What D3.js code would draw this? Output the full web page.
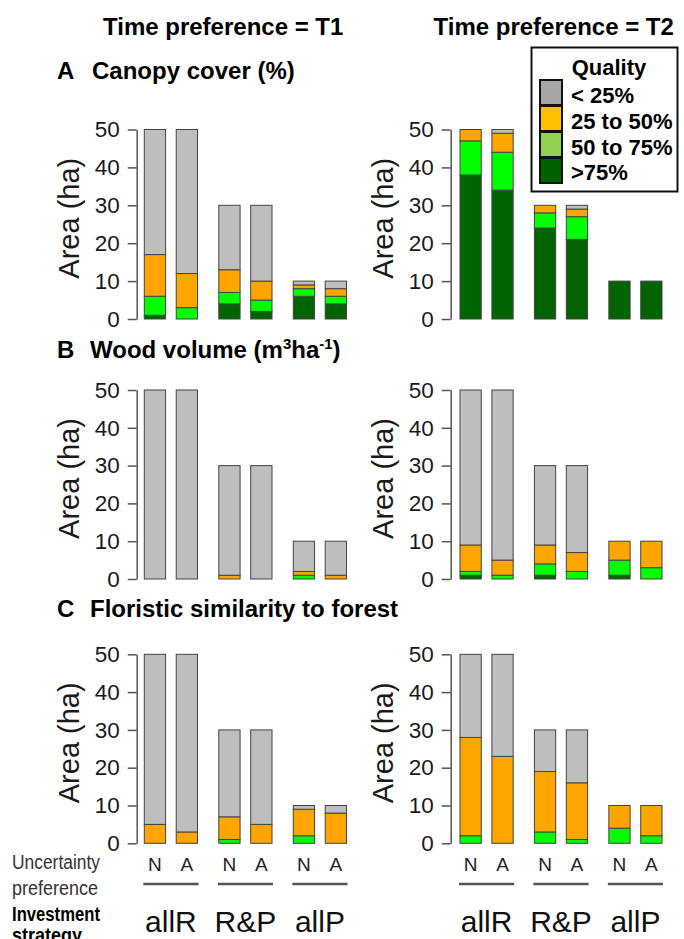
<!DOCTYPE html>
<html>
<head>
<meta charset="utf-8">
<script src="https://cdn.jsdelivr.net/npm/d3@7"></script>
<style>
  body { margin: 0; background: #fff; }
  text { font-family: "Liberation Sans", Arial, sans-serif; }
</style>
</head>
<body>
<script>
//--------------------------- Data

var groups = ["allR", "R&P", "allP"];
var uncertainty = ["N", "A"];
var timePrefs = ["T1", "T2"];
var qualityLabels = ["< 25%", "25 to 50%", "50 to 75%", ">75%"];

// one row per bar (N-allR, A-allR, N-R&P, A-R&P, N-allP, A-allP)
// values from bottom to top: >75%, 50 to 75%, 25 to 50%, < 25%
var canopyT1 = [[1, 5, 11, 33], [0, 3, 9, 38], [4, 3, 6, 17], [2, 3, 5, 20], [6, 2, 1, 1], [4, 2, 2, 2]];
var canopyT2 = [[38, 9, 3, 0], [34, 10, 5, 1], [24, 4, 2, 0], [21, 6, 2, 1], [10, 0, 0, 0], [10, 0, 0, 0]];
var woodT1 = [[0, 0, 0, 50], [0, 0, 0, 50], [0, 0, 1, 29], [0, 0, 0, 30], [0, 1, 1, 8], [0, 0, 1, 9]];
var woodT2 = [[1, 1, 7, 41], [0, 1, 4, 45], [1, 3, 5, 21], [0, 2, 5, 23], [1, 4, 5, 0], [0, 3, 7, 0]];
var floristicT1 = [[0, 0, 5, 45], [0, 0, 3, 47], [0, 1, 6, 23], [0, 0, 5, 25], [0, 2, 7, 1], [0, 0, 8, 2]];
var floristicT2 = [[0, 2, 26, 22], [0, 0, 23, 27], [0, 3, 16, 11], [0, 1, 15, 14], [0, 4, 6, 0], [0, 2, 8, 0]];

var yTicks = [0, 10, 20, 30, 40, 50];

//--------------------------- Styles

var barColors = ["#006400", "#00ff00", "#ffa500", "#bebebe"];      // bottom to top
var legendColors = ["#a6a6a6", "#ffc000", "#92d050", "#006100"];   // legend order

//--------------------------- SVG

var svg = d3.select("body").append("svg")
    .attr("width", 684)
    .attr("height", 939);

var rows = [
    { letter: "A", data: [canopyT1, canopyT2], y0: 319, y50: 129.5, titleY: 79 },
    { letter: "B", data: [woodT1, woodT2], y0: 579, y50: 390, titleY: 358 },
    { letter: "C", data: [floristicT1, floristicT2], y0: 843.3, y50: 654.3, titleY: 617 }
];
var cols = [
    { x0: 144.3, x1: 346.5, axisX: 136.7, headX: 103 },
    { x0: 460, x1: 662, axisX: 450.7, headX: 433.5 }
];

var keys = ["q4", "q3", "q2", "q1"];
var stack = d3.stack().keys(keys);

//--------------------------- Column headers

cols.forEach(function (c, ci) {
    svg.append("text")
        .attr("x", c.headX).attr("y", 35)
        .style("font-size", "24px").style("font-weight", "bold")
        .text("Time preference = " + timePrefs[ci]);
});

//--------------------------- Panel titles

var titles = svg.append("g").style("font-size", "24px").style("font-weight", "bold");
rows.forEach(function (r) {
    titles.append("text").attr("x", 57).attr("y", r.titleY).text(r.letter);
});
titles.append("text").attr("x", 92).attr("y", rows[0].titleY).text("Canopy cover (%)");
var wt = titles.append("text").attr("x", 90).attr("y", rows[1].titleY);
wt.append("tspan").text("Wood volume (m");
wt.append("tspan").attr("dy", -9).style("font-size", "15px").text("3");
wt.append("tspan").attr("dy", 9).text("ha");
wt.append("tspan").attr("dy", -9).style("font-size", "15px").text("-1");
wt.append("tspan").attr("dy", 9).text(")");
titles.append("text").attr("x", 90).attr("y", rows[2].titleY).text("Floristic similarity to forest");

//--------------------------- Panels

rows.forEach(function (r) {
    cols.forEach(function (c, ci) {
        var y = d3.scaleLinear().domain([0, 50]).range([r.y0, r.y50]);
        var xGroup = d3.scaleBand().domain(groups).range([c.x0, c.x1]).paddingInner(1 / 3.5);
        var xSub = d3.scaleBand().domain(uncertainty).range([0, xGroup.bandwidth()]).paddingInner(1 / 3);

        var bars = r.data[ci].map(function (v, i) {
            return { group: groups[Math.floor(i / 2)], unc: uncertainty[i % 2],
                     q4: v[0], q3: v[1], q2: v[2], q1: v[3] };
        });
        var series = stack(bars);

        var g = svg.append("g");

        g.selectAll("g.layer")
            .data(series)
            .enter().append("g")
            .attr("class", "layer")
            .attr("fill", function (d, i) { return barColors[i]; })
            .selectAll("rect")
            .data(function (d) { return d.filter(function (s) { return s[1] - s[0] > 0; }); })
            .enter().append("rect")
            .attr("x", function (d) { return xGroup(d.data.group) + xSub(d.data.unc); })
            .attr("width", xSub.bandwidth())
            .attr("y", function (d) { return y(d[1]); })
            .attr("height", function (d) { return y(d[0]) - y(d[1]); })
            .attr("stroke", "#444")
            .attr("stroke-width", 1);

        var ax = g.append("g")
            .attr("transform", "translate(" + c.axisX + ",0)")
            .call(d3.axisLeft(y).tickValues(yTicks).tickSize(9).tickPadding(8).tickSizeOuter(0));
        ax.selectAll("path, line").attr("stroke", "#555").attr("stroke-width", 1.5);
        ax.selectAll("text")
            .attr("fill", "#1a1a1a")
            .style("font-size", "22.5px")
            .style("font-family", "'Liberation Sans', Arial, sans-serif");

        g.append("text")
            .attr("transform", "translate(" + (c.axisX - 58) + "," + (y(25) - 6) + ")rotate(-90)")
            .attr("text-anchor", "middle")
            .style("font-size", "29px")
            .attr("fill", "#1a1a1a")
            .text("Area (ha)");

        // bottom labels under the last row
        if (r.letter === "C") {
            var lab = svg.append("g");
            groups.forEach(function (grp) {
                uncertainty.forEach(function (u) {
                    lab.append("text")
                        .attr("x", xGroup(grp) + xSub(u) + xSub.bandwidth() / 2)
                        .attr("y", 871)
                        .attr("text-anchor", "middle")
                        .style("font-size", "19px")
                        .attr("fill", "#222")
                        .text(u);
                });
                lab.append("line")
                    .attr("x1", xGroup(grp) - 1).attr("x2", xGroup(grp) + xGroup.bandwidth() + 1)
                    .attr("y1", 884).attr("y2", 884)
                    .attr("stroke", "#555").attr("stroke-width", 2.5);
                lab.append("text")
                    .attr("x", xGroup(grp) + xGroup.bandwidth() / 2)
                    .attr("y", 932)
                    .attr("text-anchor", "middle")
                    .style("font-size", "30px")
                    .attr("fill", "#111")
                    .text(grp);
            });
        }
    });
});

//--------------------------- Row labels at the bottom

svg.append("text").attr("x", 12).attr("y", 869).attr("textLength", 88).attr("lengthAdjust", "spacingAndGlyphs")
    .style("font-size", "20px").attr("fill", "#333").text("Uncertainty");
svg.append("text").attr("x", 12).attr("y", 895).attr("textLength", 86).attr("lengthAdjust", "spacingAndGlyphs")
    .style("font-size", "20px").attr("fill", "#333").text("preference");
svg.append("text").attr("x", 12).attr("y", 921).attr("textLength", 88).attr("lengthAdjust", "spacingAndGlyphs")
    .style("font-size", "20px").style("font-weight", "bold").text("Investment");
svg.append("text").attr("x", 12).attr("y", 942).attr("textLength", 70).attr("lengthAdjust", "spacingAndGlyphs")
    .style("font-size", "20px").style("font-weight", "bold").text("strategy");

//--------------------------- Legend

var legend = svg.append("g");
legend.append("rect")
    .attr("x", 531.5).attr("y", 47.5).attr("width", 146).attr("height", 144)
    .attr("fill", "#fff").attr("stroke", "#111").attr("stroke-width", 2);
legend.append("text")
    .attr("x", 609).attr("y", 75)
    .attr("text-anchor", "middle")
    .style("font-size", "22px").style("font-weight", "bold")
    .text("Quality");
qualityLabels.forEach(function (q, i) {
    legend.append("rect")
        .attr("x", 540).attr("y", 80 + i * 26)
        .attr("width", 22).attr("height", 25)
        .attr("fill", legendColors[i])
        .attr("stroke", "#111").attr("stroke-width", 2);
    legend.append("text")
        .attr("x", 571).attr("y", 103 + i * 25.8)
        .style("font-size", "22px").style("font-weight", "bold")
        .text(q);
});
</script>
</body>
</html>
